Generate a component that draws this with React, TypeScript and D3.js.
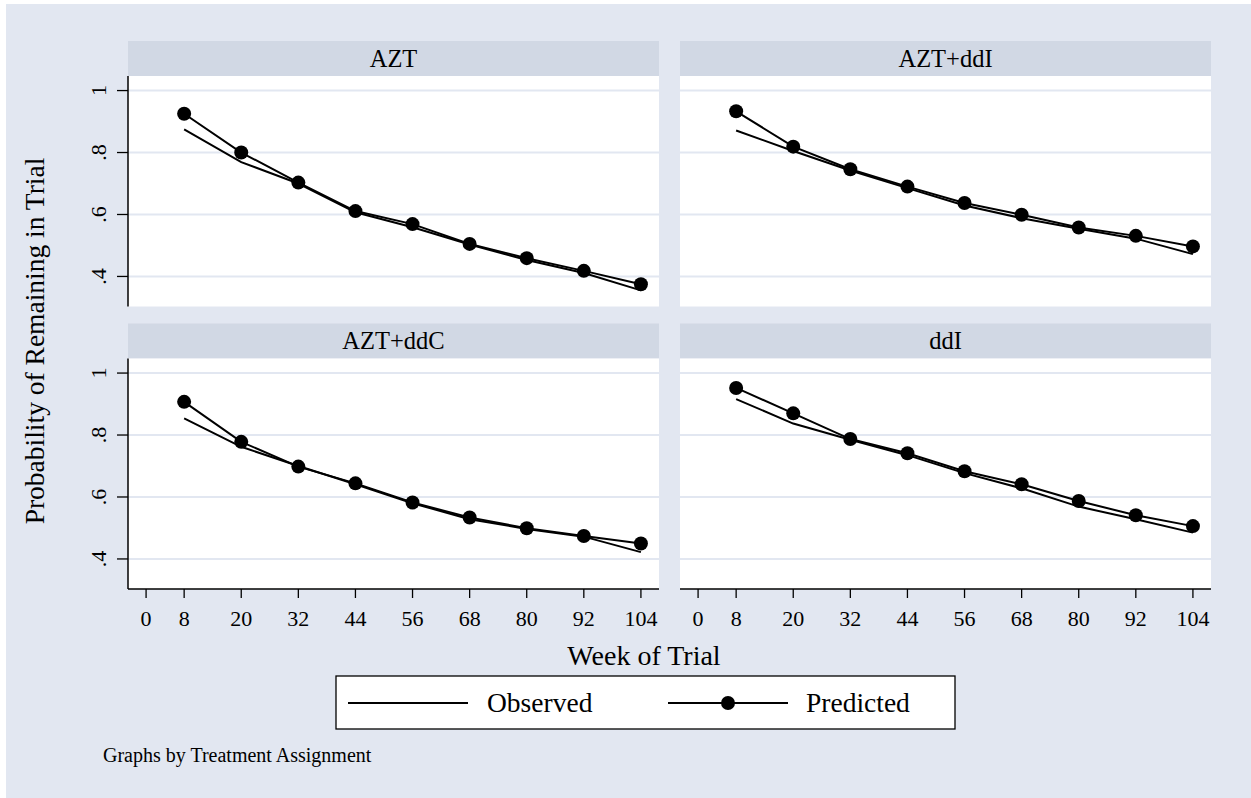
import React, { useEffect, useRef } from "react";
import * as d3 from "d3";

const weeks = [8, 20, 32, 44, 56, 68, 80, 92, 104];
const xTicks = [0, 8, 20, 32, 44, 56, 68, 80, 92, 104];
const yTicks = [0.4, 0.6, 0.8, 1];
const yTickLabels = [".4", ".6", ".8", "1"];
const panelNames = ["AZT", "AZT+ddI", "AZT+ddC", "ddI"];

const observedAZT = [0.875, 0.769, 0.7, 0.607, 0.559, 0.503, 0.453, 0.411, 0.355];
const predictedAZT = [0.925, 0.8, 0.703, 0.611, 0.569, 0.505, 0.459, 0.418, 0.375];
const observedAZTddI = [0.871, 0.805, 0.742, 0.685, 0.629, 0.588, 0.554, 0.522, 0.472];
const predictedAZTddI = [0.933, 0.819, 0.746, 0.69, 0.637, 0.599, 0.558, 0.531, 0.497];
const observedAZTddC = [0.854, 0.762, 0.7, 0.641, 0.58, 0.528, 0.497, 0.472, 0.422];
const predictedAZTddC = [0.907, 0.778, 0.698, 0.644, 0.582, 0.534, 0.499, 0.474, 0.45];
const observedDdI = [0.916, 0.837, 0.785, 0.735, 0.677, 0.628, 0.569, 0.528, 0.485];
const predictedDdI = [0.952, 0.87, 0.787, 0.741, 0.683, 0.641, 0.587, 0.541, 0.506];

const observedSeries = [observedAZT, observedAZTddI, observedAZTddC, observedDdI];
const predictedSeries = [predictedAZT, predictedAZTddI, predictedAZTddC, predictedDdI];

const W = 1251;
const H = 798;
const FONT = "'Liberation Serif', 'Times New Roman', serif";
const BG = "#e2e7f1";
const STRIP = "#d1d8e4";
const GRID = "#e2e7f1";

export default function App() {
  const ref = useRef<SVGSVGElement>(null);

  useEffect(() => {
    const svg = d3.select(ref.current);
    svg.selectAll("*").remove();

    svg.append("rect").attr("x", 6).attr("y", 4).attr("width", W - 6).attr("height", H - 4).attr("fill", BG);

    const colX = [128, 680];
    const panelW = 531;
    const rowTop = [41, 323.5];
    const stripH = 35;
    const plotH = 230.5;

    panelNames.forEach((name, i) => {
      const col = i % 2;
      const row = Math.floor(i / 2);
      const x0 = colX[col];
      const top = rowTop[row];
      const pTop = top + stripH;
      const pBot = pTop + plotH;

      const x = d3.scaleLinear().domain([-3.8, 107.8]).range([x0, x0 + panelW]);
      const y = d3.scaleLinear().domain([0.303, 1.047]).range([pBot, pTop]);

      const g = svg.append("g");
      g.append("rect").attr("x", x0).attr("y", top).attr("width", panelW).attr("height", stripH).attr("fill", STRIP);
      g.append("text")
        .attr("x", x0 + panelW / 2)
        .attr("y", top + stripH / 2 + 8)
        .attr("text-anchor", "middle")
        .style("font-family", FONT)
        .style("font-size", "24.5px")
        .text(name);

      g.append("rect").attr("x", x0).attr("y", pTop).attr("width", panelW).attr("height", plotH).attr("fill", "white");

      g.selectAll(".grid")
        .data(yTicks)
        .enter()
        .append("line")
        .attr("x1", x0)
        .attr("x2", x0 + panelW)
        .attr("y1", (d) => y(d))
        .attr("y2", (d) => y(d))
        .attr("stroke", GRID)
        .attr("stroke-width", 2);

      // y axis on left column
      if (col === 0) {
        g.append("line").attr("x1", x0).attr("x2", x0).attr("y1", pTop).attr("y2", pBot).attr("stroke", "black").attr("stroke-width", 1.5);
        yTicks.forEach((t, k) => {
          g.append("line").attr("x1", x0 - 11).attr("x2", x0).attr("y1", y(t)).attr("y2", y(t)).attr("stroke", "black").attr("stroke-width", 1.3);
          g.append("text")
            .attr("transform", `translate(${x0 - 22},${y(t)}) rotate(-90)`)
            .attr("text-anchor", "middle")
            .style("font-family", FONT)
            .style("font-size", "22px")
            .text(yTickLabels[k]);
        });
      }

      // x axis on bottom row
      if (row === 1) {
        g.append("line").attr("x1", x0).attr("x2", x0 + panelW).attr("y1", pBot).attr("y2", pBot).attr("stroke", "black").attr("stroke-width", 1.5);
        xTicks.forEach((t) => {
          g.append("line").attr("x1", x(t)).attr("x2", x(t)).attr("y1", pBot).attr("y2", pBot + 9).attr("stroke", "black").attr("stroke-width", 1.3);
          g.append("text")
            .attr("x", x(t))
            .attr("y", pBot + 37)
            .attr("text-anchor", "middle")
            .style("font-family", FONT)
            .style("font-size", "22px")
            .text(t);
        });
      }

      const line = d3
        .line<number>()
        .x((d, k) => x(weeks[k]))
        .y((d) => y(d));

      g.append("path").attr("d", line(observedSeries[i])).attr("fill", "none").attr("stroke", "black").attr("stroke-width", 2);
      g.append("path").attr("d", line(predictedSeries[i])).attr("fill", "none").attr("stroke", "black").attr("stroke-width", 2);
      g.selectAll(".dot")
        .data(predictedSeries[i])
        .enter()
        .append("circle")
        .attr("cx", (d, k) => x(weeks[k]))
        .attr("cy", (d) => y(d))
        .attr("r", 7)
        .attr("fill", "black");
    });

    // axis titles
    svg.append("text")
      .attr("x", 644)
      .attr("y", 665)
      .attr("text-anchor", "middle")
      .style("font-family", FONT)
      .style("font-size", "28px")
      .text("Week of Trial");
    svg.append("text")
      .attr("transform", "translate(44,341) rotate(-90)")
      .attr("text-anchor", "middle")
      .style("font-family", FONT)
      .style("font-size", "27.5px")
      .text("Probability of Remaining in Trial");

    // legend
    const lg = svg.append("g");
    lg.append("rect").attr("x", 336).attr("y", 676).attr("width", 619).attr("height", 53).attr("fill", "white").attr("stroke", "black").attr("stroke-width", 1.3);
    lg.append("line").attr("x1", 348).attr("x2", 468).attr("y1", 703).attr("y2", 703).attr("stroke", "black").attr("stroke-width", 2);
    lg.append("text").attr("x", 487).attr("y", 712).style("font-family", FONT).style("font-size", "27.5px").text("Observed");
    lg.append("line").attr("x1", 668).attr("x2", 788).attr("y1", 703).attr("y2", 703).attr("stroke", "black").attr("stroke-width", 2);
    lg.append("circle").attr("cx", 728).attr("cy", 703).attr("r", 7).attr("fill", "black");
    lg.append("text").attr("x", 806).attr("y", 712).style("font-family", FONT).style("font-size", "27.5px").text("Predicted");

    svg.append("text")
      .attr("x", 103)
      .attr("y", 762)
      .style("font-family", FONT)
      .style("font-size", "20px")
      .text("Graphs by Treatment Assignment");
  }, []);

  return (
    <svg
      ref={ref}
      width={W}
      height={H}
      style={{ position: "absolute", left: 0, top: 0, background: "white" }}
    ></svg>
  );
}
